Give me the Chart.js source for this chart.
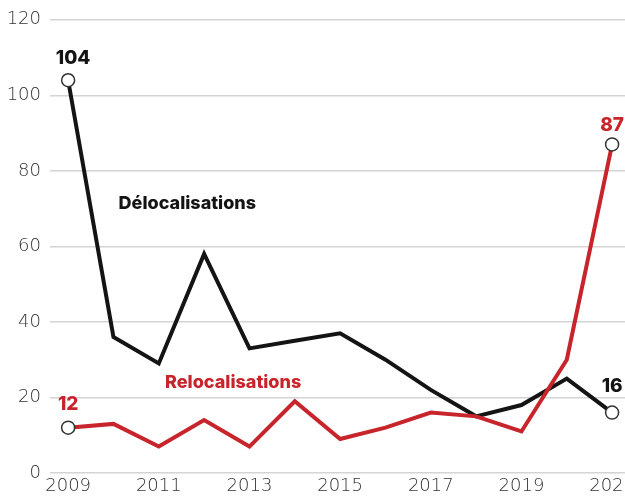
<!DOCTYPE html>
<html>
<head>
<meta charset="utf-8">
<script src="https://cdn.jsdelivr.net/npm/chart.js@4"></script>
<style>
  html, body { margin: 0; padding: 0; background: #fff; overflow: hidden; }
  #wrap { width: 660px; height: 499px; position: relative; }
</style>
</head>
<body>
<div id="wrap"><canvas id="chart"></canvas></div>
<script>
const years = [2009, 2010, 2011, 2012, 2013, 2014, 2015, 2016, 2017, 2018, 2019, 2020, 2021];
const delocalisations = [104, 36, 29, 58, 33, 35, 37, 30, 22, 15, 18, 25, 16];
const relocalisations = [12, 13, 7, 14, 7, 19, 9, 12, 16, 15, 11, 30, 87];
const xTickYears = [2009, 2011, 2013, 2015, 2017, 2019, 2021];
const yTicks = [0, 20, 40, 60, 80, 100, 120];

const BLACK = "#141414";
const RED = "#c8242b";

// white circles only on first and last point
const endRadius = years.map((y, i) => (i === 0 || i === years.length - 1) ? 6.5 : 0);

const toPoints = arr => arr.map((v, i) => ({ x: years[i], y: v }));

const labelsPlugin = {
  id: "labels",
  afterDatasetsDraw(chart) {
    const ctx = chart.ctx;
    const xs = chart.scales.x, ys = chart.scales.y;
    ctx.save();
    ctx.textBaseline = "middle";

    // end values
    ctx.font = "800 19px Inter";
    const last = years.length - 1;
    ctx.textAlign = "center";
    ctx.fillStyle = BLACK;
    ctx.fillText(String(delocalisations[0]), xs.getPixelForValue(years[0]) + 5, ys.getPixelForValue(delocalisations[0]) - 22);
    ctx.fillStyle = RED;
    ctx.fillText(String(relocalisations[0]), xs.getPixelForValue(years[0]), ys.getPixelForValue(relocalisations[0]) - 23);
    ctx.fillText(String(relocalisations[last]), xs.getPixelForValue(years[last]), ys.getPixelForValue(relocalisations[last]) - 19);
    ctx.fillStyle = BLACK;
    ctx.fillText(String(delocalisations[last]), xs.getPixelForValue(years[last]), ys.getPixelForValue(delocalisations[last]) - 26);

    // series names
    ctx.font = "800 18px Inter";
    ctx.fillStyle = BLACK;
    ctx.fillText("Délocalisations", xs.getPixelForValue(2011.63), ys.getPixelForValue(71.3));
    ctx.fillStyle = RED;
    ctx.fillText("Relocalisations", xs.getPixelForValue(2012.64), ys.getPixelForValue(24));
    ctx.restore();
  }
};

new Chart(document.getElementById("chart").getContext("2d"), {
  type: "line",
  data: {
    datasets: [
      {
        label: "Relocalisations",
        data: toPoints(relocalisations),
        borderColor: RED,
        borderWidth: 4,
        pointRadius: endRadius,
        pointBackgroundColor: "#fff",
        pointBorderColor: "#333",
        pointBorderWidth: 1.5,
        tension: 0,
        clip: false
      },
      {
        label: "Délocalisations",
        data: toPoints(delocalisations),
        borderColor: BLACK,
        borderWidth: 4,
        pointRadius: endRadius,
        pointBackgroundColor: "#fff",
        pointBorderColor: "#333",
        pointBorderWidth: 1.5,
        tension: 0,
        clip: false
      }
    ]
  },
  options: {
    responsive: true,
    maintainAspectRatio: false,
    animation: false,
    layout: { padding: { top: 17, left: 0, right: 0, bottom: 0 } },
    plugins: { legend: { display: false }, tooltip: { enabled: false } },
    scales: {
      x: {
        type: "linear",
        min: 2008.6,
        max: 2021.88,
        grid: { display: false, drawTicks: false },
        border: { display: false },
        afterBuildTicks: s => { s.ticks = xTickYears.map(v => ({ value: v })); },
        afterFit: s => { s.height = 26; },
        ticks: {
          autoSkip: false,
          maxRotation: 0,
          padding: 3,
          color: "#333",
          font: { family: "'DejaVu Sans'", size: 18, weight: "200" },
          callback: v => String(v)
        }
      },
      y: {
        min: 0,
        max: 120,
        afterBuildTicks: s => { s.ticks = yTicks.map(v => ({ value: v })); },
        afterFit: s => { s.width = 50; },
        grid: { color: "#d4d4d4", lineWidth: 1.5, drawTicks: false },
        border: { display: false },
        ticks: {
          padding: 9,
          color: "#333",
          font: { family: "'DejaVu Sans'", size: 18, weight: "200" }
        }
      }
    }
  },
  plugins: [labelsPlugin]
});
</script>
</body>
</html>
